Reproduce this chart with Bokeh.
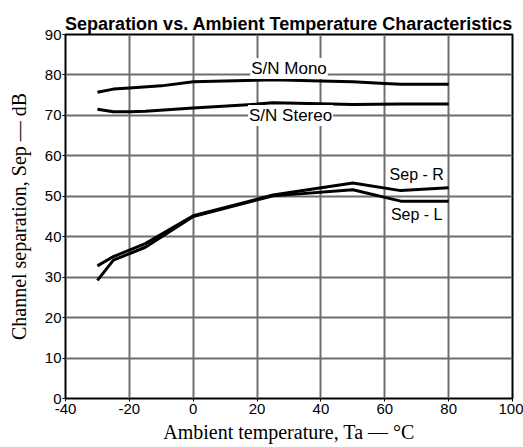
from bokeh.plotting import figure
from bokeh.models import Range1d, FixedTicker, Label
from bokeh.embed import file_html
from bokeh.resources import INLINE

# Data
temp_mono = [-30, -25, -20, -10, 0, 20, 25, 40, 50, 60, 65, 80]
sn_mono = [75.7, 76.5, 76.8, 77.3, 78.3, 78.7, 78.8, 78.5, 78.3, 77.9, 77.7, 77.7]

temp_stereo = [-30, -25, -20, -15, 0, 20, 25, 40, 50, 65, 80]
sn_stereo = [71.5, 70.9, 70.9, 71.0, 71.8, 72.8, 73.1, 72.9, 72.7, 72.8, 72.8]

temp_sep = [-30, -25, -15, 0, 25, 50, 65, 80]
sep_r = [32.8, 35.1, 38.3, 45.2, 50.3, 53.3, 51.4, 52.1]
sep_l = [29.2, 34.2, 37.4, 45.0, 50.1, 51.6, 48.8, 48.8]

x_ticks = [-40, -20, 0, 20, 40, 60, 80, 100]
y_ticks = [0, 10, 20, 30, 40, 50, 60, 70, 80, 90]
x_tick_labels = {t: str(t) for t in x_ticks}

SANS = "Liberation Sans, Arial, sans-serif"
SERIF = "Liberation Serif, Times New Roman, serif"

p = figure(width=523, height=447, output_backend="svg", toolbar_location=None,
           x_range=Range1d(x_ticks[0], x_ticks[-1]), y_range=Range1d(y_ticks[0], y_ticks[-1]),
           min_border_left=65, min_border_right=11, min_border_top=34, min_border_bottom=49)

p.title.text = "Separation vs. Ambient Temperature Characteristics"
p.title.align = "center"
p.title.text_font = "Liberation Sans Narrow, Arial Narrow, sans-serif"
p.title.text_font_style = "bold"
p.title.text_font_size = "18px"
p.title.text_color = "black"
p.title.standoff = 2
p.title.offset = 0

p.outline_line_color = "black"
p.outline_line_width = 2

for ax in (p.xaxis[0], p.yaxis[0]):
    ax.axis_line_color = None
    ax.major_tick_in = 0
    ax.major_tick_out = 3
    ax.minor_tick_line_color = None
    ax.major_tick_line_color = "black"
    ax.major_label_text_font = SANS
    ax.major_label_text_font_size = "15px"
    ax.major_label_text_color = "black"
    ax.axis_label_text_font = SERIF
    ax.axis_label_text_font_style = "normal"
    ax.axis_label_text_font_size = "20px"
    ax.axis_label_text_color = "black"

p.xaxis[0].ticker = FixedTicker(ticks=x_ticks)
p.yaxis[0].ticker = FixedTicker(ticks=y_ticks)
p.xaxis[0].major_label_overrides = x_tick_labels
p.xaxis[0].major_label_standoff = 2
p.yaxis[0].major_label_standoff = 1
p.xaxis[0].axis_label = "Ambient temperature, Ta \u2014 \u00b0C"
p.xaxis[0].axis_label_standoff = 4
p.yaxis[0].axis_label = "Channel separation, Sep \u2014 dB"
p.yaxis[0].axis_label_standoff = 12

p.grid.grid_line_color = "#6e6e6e"
p.grid.grid_line_width = 2
p.grid.grid_line_alpha = 1.0

p.line(temp_mono, sn_mono, line_color="black", line_width=3)
p.line(temp_stereo, sn_stereo, line_color="black", line_width=3)
p.line(temp_sep, sep_r, line_color="black", line_width=3)
p.line(temp_sep, sep_l, line_color="black", line_width=3)

def lab(x, y, t, size, bg=None):
    kw = dict(x=x, y=y, text=t, text_align="center", text_baseline="middle",
              text_font=SANS, text_font_size=size, text_color="black")
    if bg:
        kw.update(background_fill_color=bg, background_fill_alpha=1.0,
                  padding=1)
    p.add_layout(Label(**kw))

lab(30, 81.6, "S/N Mono", "17px", "white")
lab(30.5, 70, "S/N Stereo", "17px", "white")
lab(70, 55.4, "Sep - R", "16px")
lab(70, 45.5, "Sep - L", "16px")

open("out.html", "w").write(file_html(p, INLINE))
